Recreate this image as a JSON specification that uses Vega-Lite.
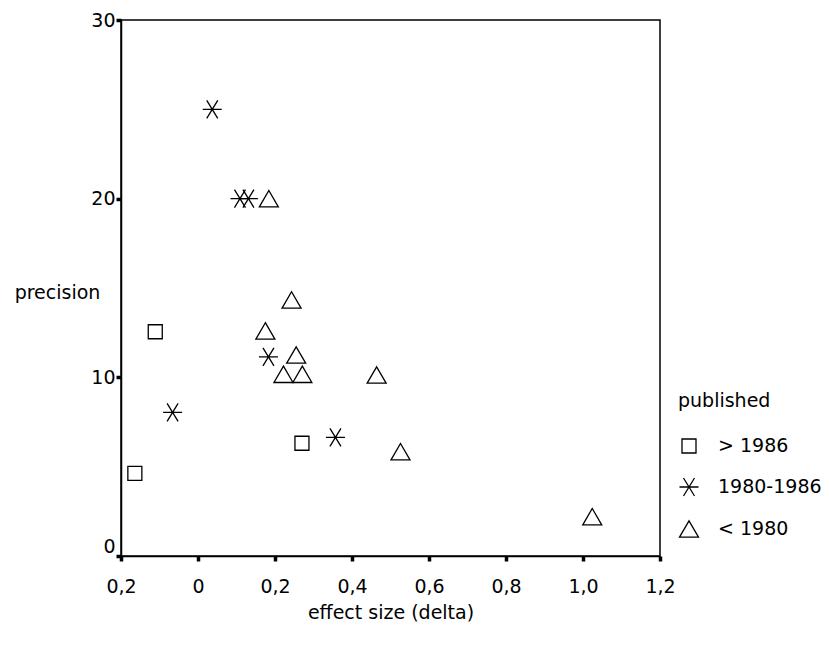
{
  "$schema": "https://vega.github.io/schema/vega-lite/v6.json",
  "width": 539,
  "height": 536,
  "autosize": {"type": "none"},
  "padding": {"left": 121, "top": 20, "right": 169, "bottom": 95},
  "background": "white",
  "config": {
    "font": "DejaVu Sans",
    "view": {"stroke": "black", "strokeWidth": 1.5},
    "axis": {
      "grid": false,
      "domainColor": "black",
      "domainWidth": 1.5,
      "tickColor": "black",
      "tickSize": 5,
      "tickWidth": 3.5,
      "labelFont": "DejaVu Sans",
      "labelFontSize": 19,
      "labelColor": "black",
      "titleFont": "DejaVu Sans",
      "titleFontSize": 19,
      "titleFontWeight": "normal",
      "titleColor": "black"
    },
    "legend": {
      "titleFont": "DejaVu Sans",
      "titleFontSize": 19,
      "titleFontWeight": "normal",
      "titleColor": "black",
      "labelFont": "DejaVu Sans",
      "labelFontSize": 19,
      "labelColor": "black"
    }
  },
  "data": {
    "values": [
      {"delta": -0.111, "precision": 12.55, "published": "> 1986"},
      {"delta": 0.270, "precision": 6.31, "published": "> 1986"},
      {"delta": -0.164, "precision": 4.63, "published": "> 1986"},
      {"delta": 0.037, "precision": 25.0, "published": "1980-1986"},
      {"delta": 0.109, "precision": 20.0, "published": "1980-1986"},
      {"delta": 0.131, "precision": 20.0, "published": "1980-1986"},
      {"delta": 0.183, "precision": 11.15, "published": "1980-1986"},
      {"delta": -0.066, "precision": 8.04, "published": "1980-1986"},
      {"delta": 0.357, "precision": 6.64, "published": "1980-1986"},
      {"delta": 0.184, "precision": 20.0, "published": "< 1980"},
      {"delta": 0.243, "precision": 14.33, "published": "< 1980"},
      {"delta": 0.175, "precision": 12.6, "published": "< 1980"},
      {"delta": 0.255, "precision": 11.25, "published": "< 1980"},
      {"delta": 0.222, "precision": 10.17, "published": "< 1980"},
      {"delta": 0.271, "precision": 10.17, "published": "< 1980"},
      {"delta": 0.464, "precision": 10.13, "published": "< 1980"},
      {"delta": 0.526, "precision": 5.84, "published": "< 1980"},
      {"delta": 1.024, "precision": 2.2, "published": "< 1980"}
    ]
  },
  "mark": {"type": "point", "filled": false, "stroke": "black", "strokeWidth": 1.3, "size": 400, "opacity": 1},
  "encoding": {
    "x": {
      "field": "delta",
      "type": "quantitative",
      "scale": {"domain": [-0.2, 1.2], "nice": false, "zero": false},
      "axis": {
        "title": "effect size (delta)",
        "values": [-0.2, 0, 0.2, 0.4, 0.6, 0.8, 1.0, 1.2],
        "labelExpr": "datum.value == 0 ? '0' : replace(format(abs(datum.value), '.1f'), '.', ',')",
        "labelPadding": 16,
        "labelFlush": false,
        "labelOverlap": false,
        "titleY": 56,
        "titleBaseline": "middle"
      }
    },
    "y": {
      "field": "precision",
      "type": "quantitative",
      "scale": {"domain": [0, 30], "nice": false},
      "axis": {
        "title": "precision",
        "values": [0, 10, 20, 30],
        "labelPadding": 1,
        "labelFlush": false,
        "labelOverlap": false,
        "labelOffset": {"condition": {"test": "datum.value == 0", "value": -10}, "value": 0},
        "titleAngle": 0,
        "titleX": -64,
        "titleY": 272,
        "titleAlign": "center",
        "titleBaseline": "middle"
      }
    },
    "shape": {
      "field": "published",
      "type": "nominal",
      "scale": {
        "domain": ["> 1986", "1980-1986", "< 1980"],
        "range": [
          "M-0.7,-0.7L0.7,-0.7L0.7,0.7L-0.7,0.7Z",
          "M-0.95,0L0.95,0M-0.55,-0.9L0.55,0.9M-0.55,0.9L0.55,-0.9",
          "M0,-0.82L0.95,0.82L-0.95,0.82Z"
        ]
      },
      "legend": {
        "title": "published",
        "orient": "none",
        "legendX": 557,
        "legendY": 372,
        "titlePadding": 24,
        "rowPadding": 19,
        "labelOffset": 18,
        "symbolSize": 400,
        "symbolStrokeColor": "black",
        "symbolStrokeWidth": 1.3,
        "symbolFillColor": "transparent"
      }
    }
  }
}
